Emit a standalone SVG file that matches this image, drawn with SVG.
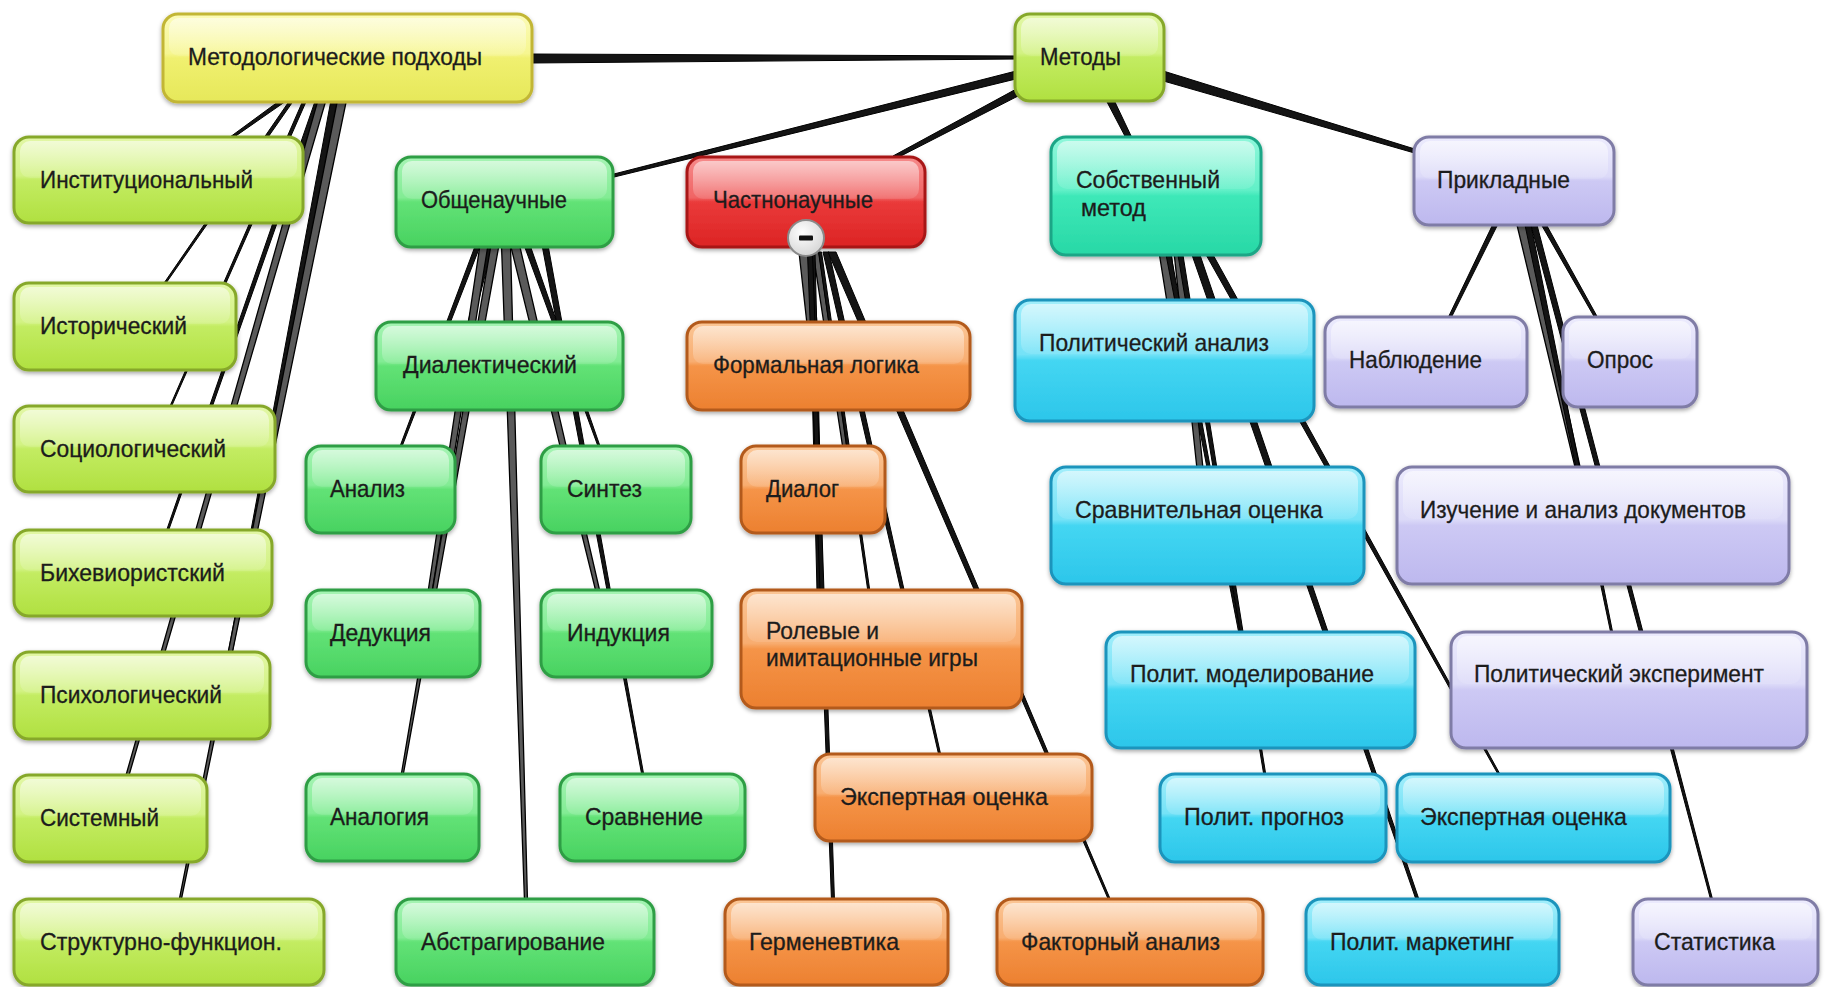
<svg xmlns="http://www.w3.org/2000/svg" width="1825" height="987" viewBox="0 0 1825 987">
<defs>
<linearGradient id="gY" x1="0" y1="0" x2="0" y2="1"><stop offset="0" stop-color="#fbfbb8"/><stop offset="0.45" stop-color="#f6f690"/><stop offset="0.5" stop-color="#f0f070"/><stop offset="1" stop-color="#e6e85a"/></linearGradient>
<linearGradient id="gL" x1="0" y1="0" x2="0" y2="1"><stop offset="0" stop-color="#e2f7a6"/><stop offset="0.45" stop-color="#d2f283"/><stop offset="0.5" stop-color="#c3ec62"/><stop offset="1" stop-color="#b0e040"/></linearGradient>
<linearGradient id="gG" x1="0" y1="0" x2="0" y2="1"><stop offset="0" stop-color="#a6f4b4"/><stop offset="0.45" stop-color="#82ec94"/><stop offset="0.5" stop-color="#62e276"/><stop offset="1" stop-color="#48d260"/></linearGradient>
<linearGradient id="gR" x1="0" y1="0" x2="0" y2="1"><stop offset="0" stop-color="#f68a8a"/><stop offset="0.45" stop-color="#f06464"/><stop offset="0.5" stop-color="#ea3a3a"/><stop offset="1" stop-color="#dc2424"/></linearGradient>
<linearGradient id="gO" x1="0" y1="0" x2="0" y2="1"><stop offset="0" stop-color="#fbc696"/><stop offset="0.45" stop-color="#f8ad70"/><stop offset="0.5" stop-color="#f59448"/><stop offset="1" stop-color="#ec8030"/></linearGradient>
<linearGradient id="gT" x1="0" y1="0" x2="0" y2="1"><stop offset="0" stop-color="#8ef7da"/><stop offset="0.45" stop-color="#62f0c8"/><stop offset="0.5" stop-color="#3ee8b8"/><stop offset="1" stop-color="#28d8a6"/></linearGradient>
<linearGradient id="gC" x1="0" y1="0" x2="0" y2="1"><stop offset="0" stop-color="#a2eefb"/><stop offset="0.45" stop-color="#74e2f7"/><stop offset="0.5" stop-color="#44d6f2"/><stop offset="1" stop-color="#2cc6ea"/></linearGradient>
<linearGradient id="gP" x1="0" y1="0" x2="0" y2="1"><stop offset="0" stop-color="#ecebfd"/><stop offset="0.45" stop-color="#dcdaf8"/><stop offset="0.5" stop-color="#cdc9f4"/><stop offset="1" stop-color="#bdb8ee"/></linearGradient>
<linearGradient id="gH" x1="0" y1="0" x2="0" y2="1"><stop offset="0" stop-color="#ffffff" stop-opacity="0.55"/><stop offset="1" stop-color="#ffffff" stop-opacity="0.1"/></linearGradient>
<radialGradient id="gM" cx="0.4" cy="0.35" r="0.7"><stop offset="0" stop-color="#ffffff"/><stop offset="1" stop-color="#d4d4d4"/></radialGradient>
<filter id="sh" x="-5%" y="-5%" width="110%" height="120%"><feDropShadow dx="0" dy="2" stdDeviation="2" flood-color="#000" flood-opacity="0.35"/></filter>
</defs>
<style>
.b{stroke-width:3;filter:url(#sh)}
.y{fill:url(#gY);stroke:#c2b636}
.l{fill:url(#gL);stroke:#86a82a}
.g{fill:url(#gG);stroke:#2f9e44}
.r{fill:url(#gR);stroke:#a81818}
.o{fill:url(#gO);stroke:#b35a1a}
.t{fill:url(#gT);stroke:#1ba686}
.cy{fill:url(#gC);stroke:#1a94bc}
.p{fill:url(#gP);stroke:#7f7ba6}
.hl{fill:url(#gH)}
text{font-family:"Liberation Sans",Arial,sans-serif;font-size:24px;fill:#1c1c1c;stroke:#1c1c1c;stroke-width:0.3}
.c{fill:#141414;stroke:#000;stroke-width:1;stroke-linejoin:round}
.cg{fill:#5a5a5a;stroke:#000;stroke-width:1.3;stroke-linejoin:round}
</style>
<rect x="0" y="0" width="1825" height="987" fill="#ffffff"/>
<g id="connectors">
<polygon class="c" points="530,54 530,63 1018,59 1018,56"/>
<polygon class="c" points="1020,70 1020,78 610,178 610,175"/>
<polygon class="c" points="1020,87 1020,95 893,160 893,156"/>
<polygon class="c" points="1106,100 1114,100 1133,140 1127,140"/>
<polygon class="c" points="1160,70 1160,80 1418,154 1418,150"/>
<polygon class="c" points="280.5,100 287.5,100 230,140 226,140"/>
<polygon class="c" points="290,100 294,100 164,286 162,286"/>
<polygon class="c" points="303.2,100 306.8,100 170.8,408 169.2,408"/>
<polygon class="c" points="315.5,100 320.5,100 168,532 166,532"/>
<polygon class="c" points="331,100 339,100 232,654 228,654"/>
<polygon class="cg" points="318,100 326,100 128.5,777 125.5,777"/>
<polygon class="cg" points="337.5,100 346.5,100 181,901 179,901"/>
<polygon class="c" points="487,245 493,245 472.5,324 467.5,324"/>
<polygon class="c" points="475.5,245 480.5,245 401,449 399,449"/>
<polygon class="cg" points="480,245 488,245 432,592 428,592"/>
<polygon class="cg" points="491,245 499,245 403,776 401,776"/>
<polygon class="cg" points="501.5,245 510.5,245 527.5,901 524.5,901"/>
<polygon class="c" points="524,245 530,245 601,449 599,449"/>
<polygon class="cg" points="510.5,245 519.5,245 600,592 596,592"/>
<polygon class="c" points="542,245 548,245 644,776 642,776"/>
<polygon class="cg" points="799,252 811,252 817,324 807,324"/>
<polygon class="cg" points="813,252 819,252 847,449 843,449"/>
<polygon class="c" points="809,252 815,252 823,592 817,592"/>
<polygon class="c" points="818.5,252 821.5,252 870,592 868,592"/>
<polygon class="c" points="823,252 829,252 941,756 939,756"/>
<polygon class="c" points="807.5,252 812.5,252 834.5,901 831.5,901"/>
<polygon class="c" points="828,252 836,252 1111,901 1109,901"/>
<polygon class="cg" points="1159,252 1171,252 1177,302 1167,302"/>
<polygon class="cg" points="1174,252 1182,252 1203,469 1197,469"/>
<polygon class="c" points="1165.5,252 1170.5,252 1241,634 1239,634"/>
<polygon class="c" points="1177.5,252 1182.5,252 1266,776 1264,776"/>
<polygon class="c" points="1191,252 1199,252 1419.5,901 1416.5,901"/>
<polygon class="c" points="1204.5,252 1211.5,252 1501,776 1499,776"/>
<polygon class="c" points="1492.5,225 1497.5,225 1450.5,319 1447.5,319"/>
<polygon class="c" points="1541.5,225 1546.5,225 1598.5,319 1595.5,319"/>
<polygon class="cg" points="1517,225 1527,225 1580.5,469 1575.5,469"/>
<polygon class="c" points="1525,225 1531,225 1613,634 1611,634"/>
<polygon class="c" points="1531,225 1537,225 1713,901 1711,901"/>
</g>
<g id="n-metodologicheskie"><rect class="b y" x="163" y="14" width="369" height="88" rx="15"/><rect class="hl" x="169" y="18" width="357" height="38" rx="10"/><text x="188" y="65" textLength="294" lengthAdjust="spacingAndGlyphs">Методологические подходы</text></g>
<g id="n-metody"><rect class="b l" x="1015" y="14" width="149" height="87" rx="15"/><rect class="hl" x="1021" y="18" width="137" height="38" rx="10"/><text x="1040" y="65" textLength="81" lengthAdjust="spacingAndGlyphs">Методы</text></g>
<g id="n-inst"><rect class="b l" x="14" y="137" width="289" height="86" rx="15"/><rect class="hl" x="20" y="141" width="277" height="37" rx="10"/><text x="40" y="188" textLength="213" lengthAdjust="spacingAndGlyphs">Институциональный</text></g>
<g id="n-ist"><rect class="b l" x="14" y="283" width="222" height="87" rx="15"/><rect class="hl" x="20" y="287" width="210" height="37" rx="10"/><text x="40" y="334" textLength="147" lengthAdjust="spacingAndGlyphs">Исторический</text></g>
<g id="n-soc"><rect class="b l" x="14" y="406" width="261" height="86" rx="15"/><rect class="hl" x="20" y="410" width="249" height="37" rx="10"/><text x="40" y="457" textLength="186" lengthAdjust="spacingAndGlyphs">Социологический</text></g>
<g id="n-bih"><rect class="b l" x="14" y="530" width="258" height="86" rx="15"/><rect class="hl" x="20" y="534" width="246" height="37" rx="10"/><text x="40" y="581" textLength="185" lengthAdjust="spacingAndGlyphs">Бихевиористский</text></g>
<g id="n-psy"><rect class="b l" x="14" y="652" width="256" height="87" rx="15"/><rect class="hl" x="20" y="656" width="244" height="37" rx="10"/><text x="40" y="703" textLength="182" lengthAdjust="spacingAndGlyphs">Психологический</text></g>
<g id="n-sys"><rect class="b l" x="14" y="775" width="193" height="87" rx="15"/><rect class="hl" x="20" y="779" width="181" height="37" rx="10"/><text x="40" y="826" textLength="119" lengthAdjust="spacingAndGlyphs">Системный</text></g>
<g id="n-str"><rect class="b l" x="14" y="899" width="310" height="86" rx="15"/><rect class="hl" x="20" y="903" width="298" height="37" rx="10"/><text x="40" y="950" textLength="242" lengthAdjust="spacingAndGlyphs">Структурно-функцион.</text></g>
<g id="n-obsh"><rect class="b g" x="396" y="157" width="217" height="90" rx="15"/><rect class="hl" x="402" y="161" width="205" height="38" rx="10"/><text x="421" y="208" textLength="146" lengthAdjust="spacingAndGlyphs">Общенаучные</text></g>
<g id="n-dial"><rect class="b g" x="376" y="322" width="247" height="88" rx="15"/><rect class="hl" x="382" y="326" width="235" height="38" rx="10"/><text x="403" y="373" textLength="174" lengthAdjust="spacingAndGlyphs">Диалектический</text></g>
<g id="n-anal"><rect class="b g" x="306" y="446" width="149" height="87" rx="15"/><rect class="hl" x="312" y="450" width="137" height="37" rx="10"/><text x="330" y="497" textLength="75" lengthAdjust="spacingAndGlyphs">Анализ</text></g>
<g id="n-sint"><rect class="b g" x="541" y="446" width="150" height="87" rx="15"/><rect class="hl" x="547" y="450" width="138" height="37" rx="10"/><text x="567" y="497" textLength="75" lengthAdjust="spacingAndGlyphs">Синтез</text></g>
<g id="n-ded"><rect class="b g" x="306" y="590" width="174" height="87" rx="15"/><rect class="hl" x="312" y="594" width="162" height="37" rx="10"/><text x="330" y="641" textLength="101" lengthAdjust="spacingAndGlyphs">Дедукция</text></g>
<g id="n-ind"><rect class="b g" x="541" y="590" width="171" height="87" rx="15"/><rect class="hl" x="547" y="594" width="159" height="37" rx="10"/><text x="567" y="641" textLength="103" lengthAdjust="spacingAndGlyphs">Индукция</text></g>
<g id="n-analog"><rect class="b g" x="306" y="774" width="173" height="87" rx="15"/><rect class="hl" x="312" y="778" width="161" height="37" rx="10"/><text x="330" y="825" textLength="99" lengthAdjust="spacingAndGlyphs">Аналогия</text></g>
<g id="n-sravn"><rect class="b g" x="560" y="774" width="185" height="87" rx="15"/><rect class="hl" x="566" y="778" width="173" height="37" rx="10"/><text x="585" y="825" textLength="118" lengthAdjust="spacingAndGlyphs">Сравнение</text></g>
<g id="n-abstr"><rect class="b g" x="396" y="899" width="258" height="86" rx="15"/><rect class="hl" x="402" y="903" width="246" height="37" rx="10"/><text x="421" y="950" textLength="184" lengthAdjust="spacingAndGlyphs">Абстрагирование</text></g>
<g id="n-chast"><rect class="b r" x="687" y="157" width="238" height="90" rx="15"/><rect class="hl" x="693" y="161" width="226" height="38" rx="10"/><text x="713" y="208" textLength="160" lengthAdjust="spacingAndGlyphs">Частнонаучные</text><circle cx="806" cy="238" r="18" fill="url(#gM)" stroke="#8a8a8a" stroke-width="2"/><rect x="799" y="235.5" width="14" height="5" rx="1" fill="#111"/></g>
<g id="n-form"><rect class="b o" x="687" y="322" width="283" height="88" rx="15"/><rect class="hl" x="693" y="326" width="271" height="38" rx="10"/><text x="713" y="373" textLength="206" lengthAdjust="spacingAndGlyphs">Формальная логика</text></g>
<g id="n-dialog"><rect class="b o" x="741" y="446" width="144" height="87" rx="15"/><rect class="hl" x="747" y="450" width="132" height="37" rx="10"/><text x="766" y="497" textLength="73" lengthAdjust="spacingAndGlyphs">Диалог</text></g>
<g id="n-rol"><rect class="b o" x="741" y="590" width="281" height="118" rx="15"/><rect class="hl" x="747" y="594" width="269" height="48" rx="10"/><text x="766" y="639" textLength="113" lengthAdjust="spacingAndGlyphs">Ролевые и</text><text x="766" y="666" textLength="212" lengthAdjust="spacingAndGlyphs">имитационные игры</text></g>
<g id="n-eksp-o"><rect class="b o" x="815" y="754" width="277" height="87" rx="15"/><rect class="hl" x="821" y="758" width="265" height="37" rx="10"/><text x="840" y="805" textLength="208" lengthAdjust="spacingAndGlyphs">Экспертная оценка</text></g>
<g id="n-germ"><rect class="b o" x="725" y="899" width="223" height="86" rx="15"/><rect class="hl" x="731" y="903" width="211" height="37" rx="10"/><text x="749" y="950" textLength="150" lengthAdjust="spacingAndGlyphs">Герменевтика</text></g>
<g id="n-fakt"><rect class="b o" x="997" y="899" width="266" height="86" rx="15"/><rect class="hl" x="1003" y="903" width="254" height="37" rx="10"/><text x="1021" y="950" textLength="199" lengthAdjust="spacingAndGlyphs">Факторный анализ</text></g>
<g id="n-sobst"><rect class="b t" x="1051" y="137" width="210" height="118" rx="15"/><rect class="hl" x="1057" y="141" width="198" height="48" rx="10"/><text x="1076" y="188" textLength="144" lengthAdjust="spacingAndGlyphs">Собственный</text><text x="1081" y="216" textLength="65" lengthAdjust="spacingAndGlyphs">метод</text></g>
<g id="n-polan"><rect class="b cy" x="1015" y="300" width="299" height="121" rx="15"/><rect class="hl" x="1021" y="304" width="287" height="50" rx="10"/><text x="1039" y="351" textLength="230" lengthAdjust="spacingAndGlyphs">Политический анализ</text></g>
<g id="n-sravo"><rect class="b cy" x="1051" y="467" width="313" height="117" rx="15"/><rect class="hl" x="1057" y="471" width="301" height="48" rx="10"/><text x="1075" y="518" textLength="248" lengthAdjust="spacingAndGlyphs">Сравнительная оценка</text></g>
<g id="n-model"><rect class="b cy" x="1106" y="632" width="309" height="116" rx="15"/><rect class="hl" x="1112" y="636" width="297" height="48" rx="10"/><text x="1130" y="682" textLength="244" lengthAdjust="spacingAndGlyphs">Полит. моделирование</text></g>
<g id="n-prog"><rect class="b cy" x="1160" y="774" width="226" height="88" rx="15"/><rect class="hl" x="1166" y="778" width="214" height="37" rx="10"/><text x="1184" y="825" textLength="160" lengthAdjust="spacingAndGlyphs">Полит. прогноз</text></g>
<g id="n-eksp-c"><rect class="b cy" x="1397" y="774" width="273" height="88" rx="15"/><rect class="hl" x="1403" y="778" width="261" height="37" rx="10"/><text x="1420" y="825" textLength="207" lengthAdjust="spacingAndGlyphs">Экспертная оценка</text></g>
<g id="n-mark"><rect class="b cy" x="1306" y="899" width="253" height="86" rx="15"/><rect class="hl" x="1312" y="903" width="241" height="37" rx="10"/><text x="1330" y="950" textLength="184" lengthAdjust="spacingAndGlyphs">Полит. маркетинг</text></g>
<g id="n-prikl"><rect class="b p" x="1414" y="137" width="200" height="88" rx="15"/><rect class="hl" x="1420" y="141" width="188" height="38" rx="10"/><text x="1437" y="188" textLength="133" lengthAdjust="spacingAndGlyphs">Прикладные</text></g>
<g id="n-nabl"><rect class="b p" x="1325" y="317" width="202" height="90" rx="15"/><rect class="hl" x="1331" y="321" width="190" height="38" rx="10"/><text x="1349" y="368" textLength="133" lengthAdjust="spacingAndGlyphs">Наблюдение</text></g>
<g id="n-opros"><rect class="b p" x="1563" y="317" width="134" height="90" rx="15"/><rect class="hl" x="1569" y="321" width="122" height="38" rx="10"/><text x="1587" y="368" textLength="66" lengthAdjust="spacingAndGlyphs">Опрос</text></g>
<g id="n-izuch"><rect class="b p" x="1397" y="467" width="392" height="117" rx="15"/><rect class="hl" x="1403" y="471" width="380" height="48" rx="10"/><text x="1420" y="518" textLength="326" lengthAdjust="spacingAndGlyphs">Изучение и анализ документов</text></g>
<g id="n-eksper"><rect class="b p" x="1451" y="632" width="356" height="116" rx="15"/><rect class="hl" x="1457" y="636" width="344" height="48" rx="10"/><text x="1474" y="682" textLength="290" lengthAdjust="spacingAndGlyphs">Политический эксперимент</text></g>
<g id="n-stat"><rect class="b p" x="1633" y="899" width="185" height="86" rx="15"/><rect class="hl" x="1639" y="903" width="173" height="37" rx="10"/><text x="1654" y="950" textLength="121" lengthAdjust="spacingAndGlyphs">Статистика</text></g>
</svg>
